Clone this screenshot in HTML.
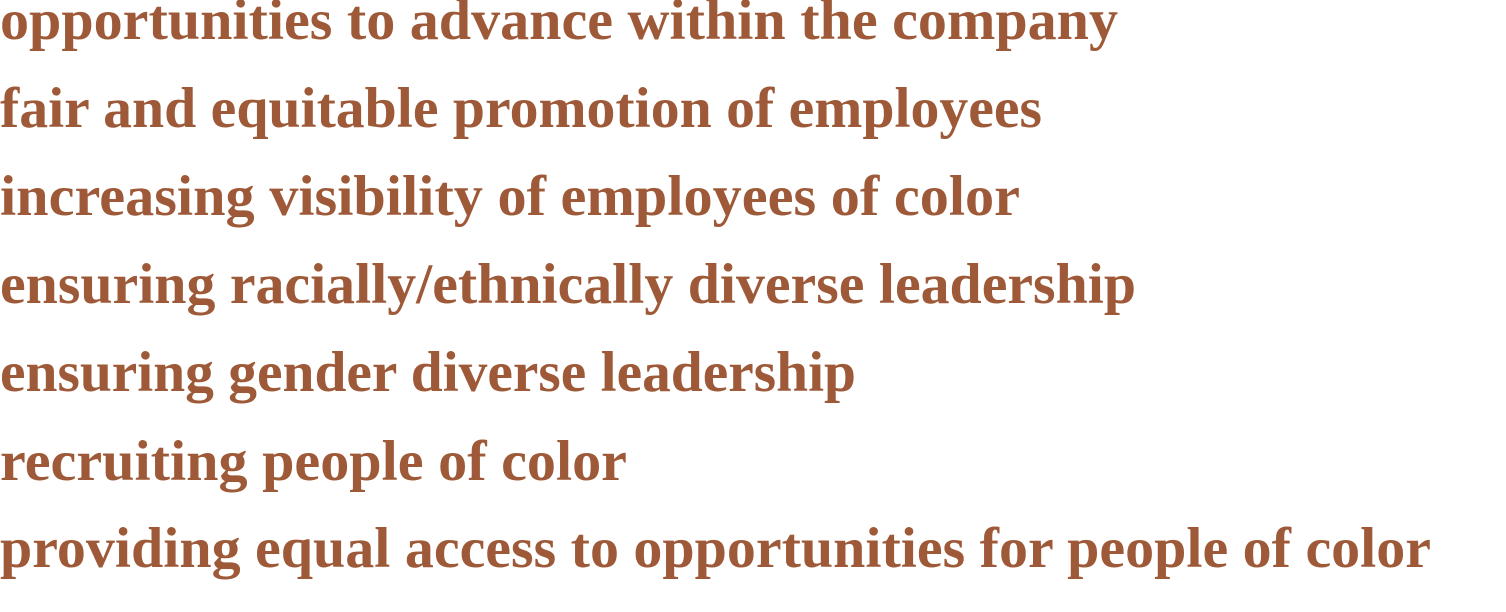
<!DOCTYPE html>
<html><head><meta charset="utf-8"><style>
html,body{margin:0;padding:0;background:#fff;width:1506px;height:612px;overflow:hidden}
text{font-family:"Liberation Serif",serif;font-weight:bold;font-size:57px;fill:#9e5a38}
</style></head><body>
<svg width="1506" height="612">
<text x="0" y="39" textLength="1118" lengthAdjust="spacingAndGlyphs">opportunities to advance within the company</text>
<text x="0" y="127" textLength="1042" lengthAdjust="spacingAndGlyphs">fair and equitable promotion of employees</text>
<text x="0" y="215" textLength="1020" lengthAdjust="spacingAndGlyphs">increasing visibility of employees of color</text>
<text x="0" y="303" textLength="1136" lengthAdjust="spacingAndGlyphs">ensuring racially/ethnically diverse leadership</text>
<text x="0" y="391" textLength="856" lengthAdjust="spacingAndGlyphs">ensuring gender diverse leadership</text>
<text x="0" y="480" textLength="627" lengthAdjust="spacingAndGlyphs">recruiting people of color</text>
<text x="0" y="567" textLength="1431" lengthAdjust="spacingAndGlyphs">providing equal access to opportunities for people of color</text>
</svg>
</body></html>
